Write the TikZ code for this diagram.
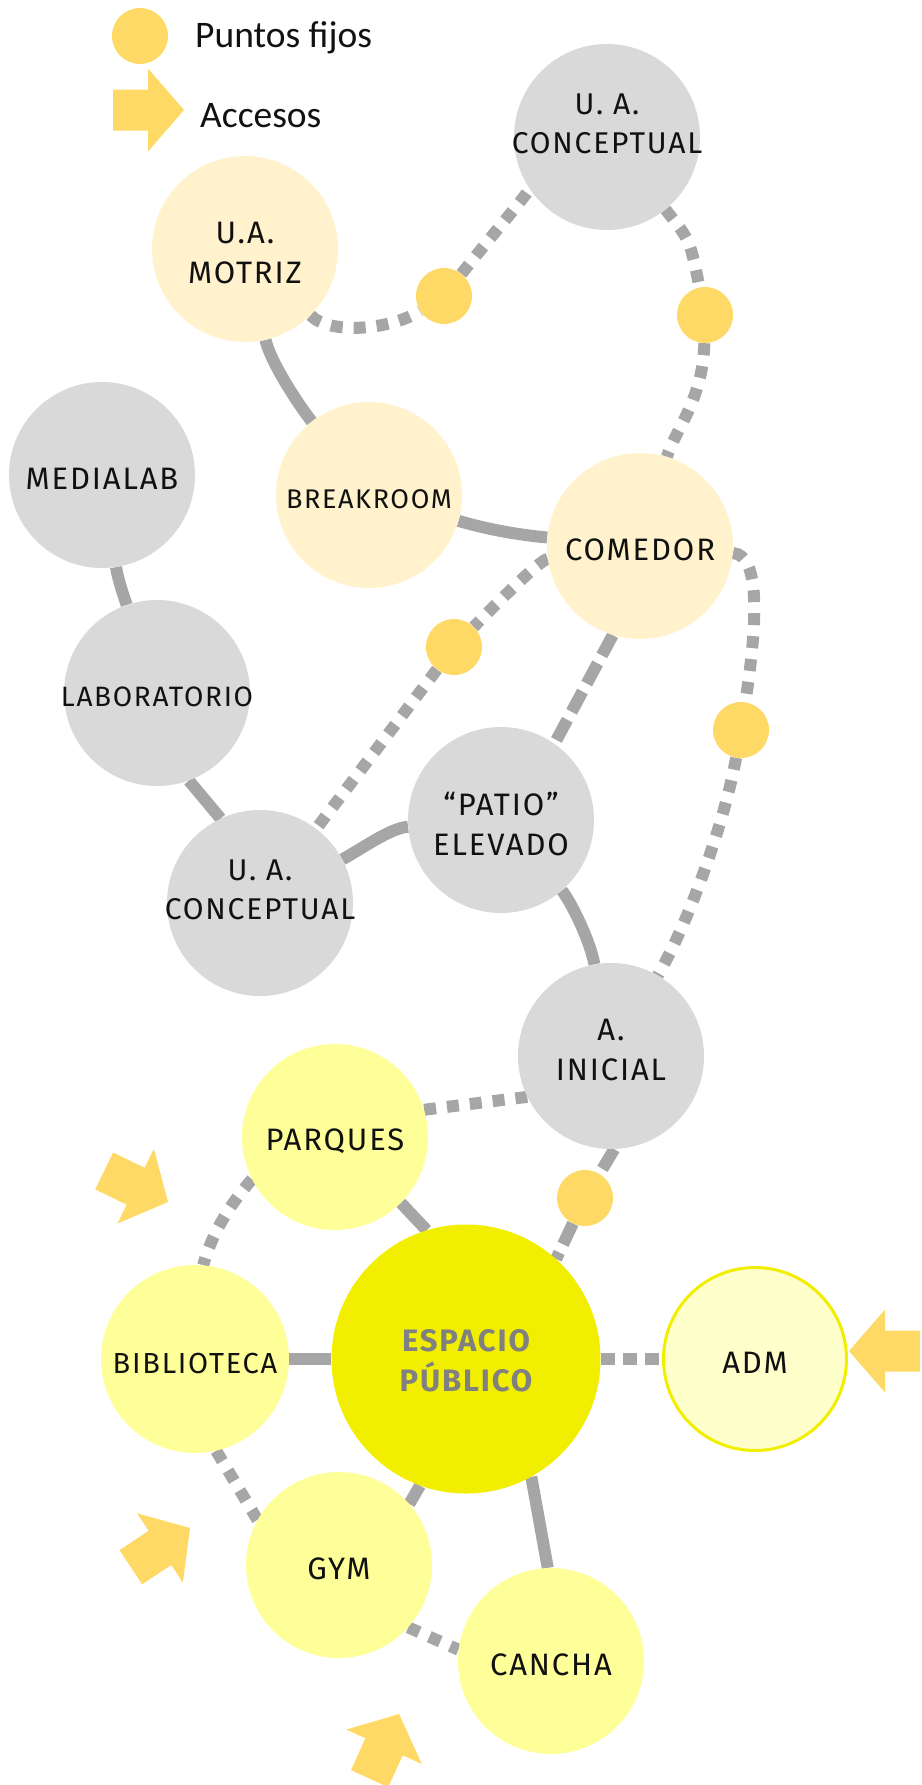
\documentclass[tikz,border=0pt]{standalone}
\usepackage{fontspec}
\setmainfont{Fira Sans}[LetterSpace=6]
\newfontfamily\legfont{Carlito}
\usetikzlibrary{calc}
\definecolor{grayc}{HTML}{D9D9D9}
\definecolor{creamc}{HTML}{FFF2CC}
\definecolor{lyelc}{HTML}{FFFF99}
\definecolor{espc}{HTML}{F2EE00}
\definecolor{admc}{HTML}{FFFFCC}
\definecolor{dotc}{HTML}{FFD966}
\definecolor{lnc}{HTML}{A6A6A6}
\definecolor{esptxt}{HTML}{808080}
\definecolor{txtc}{HTML}{111111}
\pgfdeclarelayer{bg}
\pgfsetlayers{bg,main}
\newcommand\accarrow[2]{\fill[dotc, shift={#1}, rotate=#2] (0,0) -- (-36,41.5) -- (-36,20.5) -- (-71,20.5) -- (-71,-20.5) -- (-36,-20.5) -- (-36,-41.5) -- cycle;}
\tikzset{
  circ/.style={circle, minimum size=186pt, inner sep=0pt, draw=none},
  fixdot/.style={circle, minimum size=56pt, inner sep=0pt, fill=dotc},
  lbl/.style={align=center, inner sep=0pt, text=txtc, font=\fontsize{31}{40}\selectfont, yshift=-4pt},
  legtxt/.style={inner sep=0pt, text=txtc, font=\legfont\fontsize{37.5}{42}\selectfont, anchor=base west},
  conn/.style={draw=lnc, line width=12pt},
  dotln/.style={conn, dash pattern=on 12pt off 11pt},
  dashln/.style={conn, dash pattern=on 23pt off 9pt},
  shortdash/.style={conn, dash pattern=on 14pt off 8pt},
}
\begin{document}
\begin{tikzpicture}[x=1pt, y=-1pt]
\useasboundingbox (0,0) rectangle (921,1785);
% legend
\node[fixdot] (legdot) at (140,36) {};
\node[legtxt] (legt1) at (195,48) {Puntos fijos};
\accarrow{(184,110)}{0}
\node[legtxt] (legt2) at (200,127) {Accesos};
% circles
\node[circ, fill=grayc] (cA) at (607,137) {};
\node[lbl, yshift=4pt, font=\fontsize{30}{39}\selectfont] (cAt) at ([yshift=13pt]cA.center) {U. A.\\CONCEPTUAL};
\node[circ, fill=creamc] (mot) at (245,249) {};
\node[lbl] (mott) at (mot.center) {U.A.\\MOTRIZ};
\node[circ, fill=grayc] (med) at (102,475) {};
\node[lbl] (medt) at (med.center) {MEDIALAB};
\node[circ, fill=creamc] (brk) at (369,495) {};
\node[lbl, font=\fontsize{27}{34}\selectfont] (brkt) at (brk.center) {BREAKROOM};
\node[circ, fill=creamc] (com) at (640,546) {};
\node[lbl] (comt) at (com.center) {COMEDOR};
\node[circ, fill=grayc] (lab) at (157,693) {};
\node[lbl, font=\fontsize{28}{34}\selectfont] (labt) at (lab.center) {LABORATORIO};
\node[circ, fill=grayc] (pat) at (501,820) {};
\node[lbl] (patt) at (pat.center) {“PATIO”\\ELEVADO};
\node[circ, fill=grayc] (cB) at (260,903) {};
\node[lbl, yshift=4pt, font=\fontsize{30}{39}\selectfont] (cBt) at ([yshift=13pt]cB.center) {U. A.\\CONCEPTUAL};
\node[circ, fill=grayc] (ini) at (611,1056) {};
\node[lbl, yshift=4pt] (init) at ([yshift=6pt]ini.center) {A.\\INICIAL};
\node[circ, fill=lyelc] (par) at (335,1137) {};
\node[lbl] (part) at (par.center) {PARQUES};
\node[circ, fill=espc, minimum size=269pt] (esp) at (466,1359) {};
\node[lbl, yshift=2pt, text=esptxt, font=\bfseries\fontsize{31}{40}\selectfont] (espt) at (esp.center) {ESPACIO\\PÚBLICO};
\node[circ, fill=lyelc, minimum size=188pt] (bib) at (195,1359) {};
\node[lbl, font=\fontsize{29}{36}\selectfont] (bibt) at (bib.center) {BIBLIOTECA};
\node[circ, fill=admc, draw=espc, line width=3pt, minimum size=183pt] (adm) at (755,1359) {};
\node[lbl] (admt) at (adm.center) {ADM};
\node[circ, fill=lyelc] (gym) at (339,1565) {};
\node[lbl] (gymt) at (gym.center) {GYM};
\node[circ, fill=lyelc] (can) at (551,1661) {};
\node[lbl] (cant) at (can.center) {CANCHA};
% fixed points
\node[fixdot] (d1) at (444,296) {};
\node[fixdot] (d2) at (705,315) {};
\node[fixdot] (d3) at (454,647) {};
\node[fixdot] (d4) at (741,730) {};
\node[fixdot] (d5) at (585,1198) {};
% access arrows
\accarrow{(168,1202)}{-26}
\accarrow{(849,1351)}{180}
\accarrow{(190,1528)}{33.5}
\accarrow{(399,1714)}{65.5}
% connectors
\begin{pgfonlayer}{bg}
\draw[dotln] (mot) .. controls (330,335) and (390,330) .. (d1);
\draw[dotln] (d1) .. controls (500,225) and (540,180) .. (cA);
\draw[dotln] (cA) .. controls (690,240) .. (d2);
\draw[dotln] (d2) .. controls (703,400) and (675,430) .. (com);
\draw[conn] (mot) .. controls (270,360) and (295,400) .. (brk);
\draw[conn] (brk) .. controls (490,530) and (520,535) .. (com);
\draw[conn] (med) .. controls (118,580) and (125,600) .. (lab);
\draw[conn] (lab.-70) -- (cB.115);
\draw[dotln] (com) .. controls (540,560) and (500,600) .. (d3);
\draw[dotln] (d3) -- (cB);
\draw[dashln] (com.253) -- (pat.55);
\draw[dotln] (com) .. controls (760,555) and (758,620) .. (d4);
\draw[dotln] (d4) .. controls (725,820) and (690,920) .. (ini);
\draw[conn] (cB) .. controls (360,850) and (390,828) .. (pat);
\draw[conn] (pat) .. controls (570,900) and (590,940) .. (ini);
\draw[dotln] (par.17) -- (ini.206);
\draw[dashln] (ini.-88) -- (d5);
\draw[dashln] (d5) -- (esp.48);
\draw[conn] (par.-45) -- (esp.107);
\draw[dotln] (par.207) .. controls (225,1210) and (210,1240) .. (bib.85);
\draw[conn] (bib) -- (esp);
\draw[shortdash] (esp) -- (adm);
\draw[dotln] (bib.-77) -- (gym.151);
\draw[conn] (esp.250) -- (gym.41);
\draw[conn] (esp.-61) -- (can.92);
\draw[dotln] (gym.-42) -- (can.173);
\end{pgfonlayer}
\end{tikzpicture}
\end{document}
